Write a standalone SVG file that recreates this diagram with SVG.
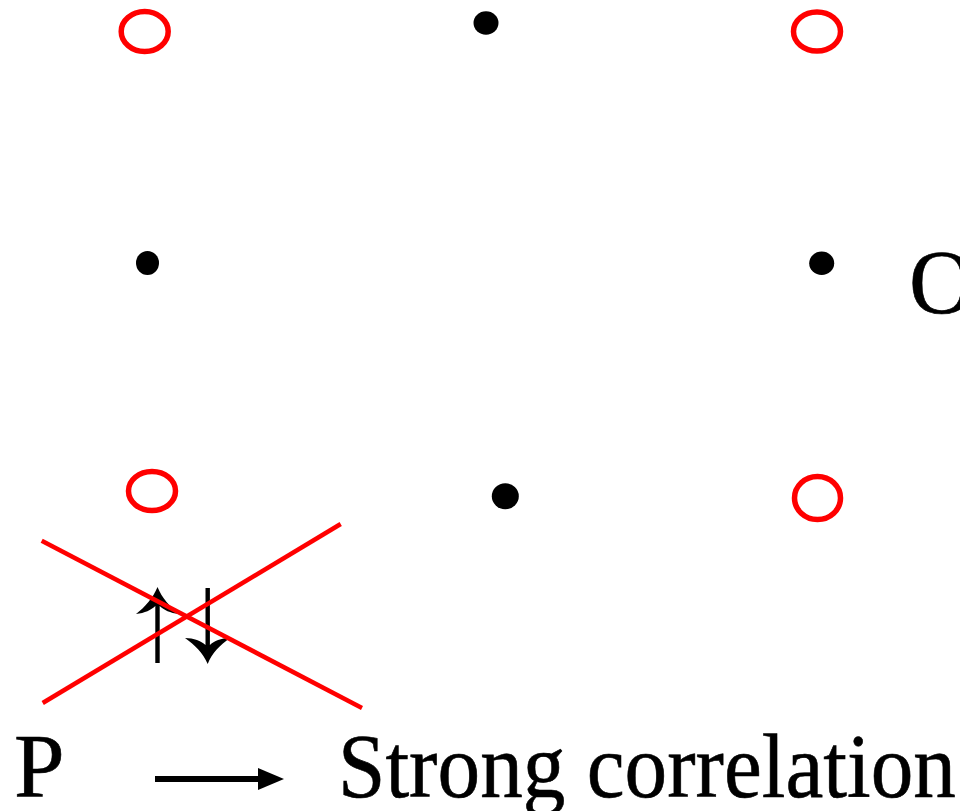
<svg xmlns="http://www.w3.org/2000/svg" width="960" height="811" viewBox="0 0 960 811">
  <style>
    .ring { fill: none; stroke: #ff0000; stroke-width: 5.5; }
    .dot { fill: #000000; }
    .cross { stroke: #ff0000; stroke-width: 4.5; fill: none; }
    .lbl { font-family: "Liberation Serif", "Times New Roman", serif; font-size: 91px; fill: #000000; stroke: #000000; stroke-width: 0.6; }
  </style>
  <rect width="960" height="811" fill="#ffffff"/>
  <g id="rings">
    <ellipse class="ring" cx="144.7" cy="31.5" rx="23.5" ry="20"/>
    <ellipse class="ring" cx="817" cy="31.5" rx="23.5" ry="19.5"/>
    <ellipse class="ring" cx="152" cy="491" rx="23.5" ry="19.5"/>
    <ellipse class="ring" cx="817.5" cy="498" rx="23" ry="21.5"/>
  </g>
  <g id="dots">
    <ellipse class="dot" cx="486" cy="23" rx="12.5" ry="11.7"/>
    <ellipse class="dot" cx="147.5" cy="263" rx="11.5" ry="12"/>
    <ellipse class="dot" cx="821.7" cy="263.3" rx="12.5" ry="11.7"/>
    <ellipse class="dot" cx="505.3" cy="496.3" rx="13.5" ry="13"/>
  </g>
  <g id="spins">
    <path d="M157.5,587 C162,598 170,607 179,614 C170,613 164,610 159.7,606 L159.7,663 L155.3,663 L155.3,606 C151,610 145,613 136,614 C145,607 153,598 157.5,587 Z" fill="#000"/>
    <path d="M207.7,664 C203,653 195,645 185,638 C194,638 201,641 205.5,645 L205.5,588 L209.9,588 L209.9,645 C214,641 221,638 230,638 C220,645 212,653 207.7,664 Z" fill="#000"/>
  </g>
  <g id="cross">
    <line class="cross" x1="41.7" y1="540.7" x2="362" y2="708"/>
    <line class="cross" x1="42.7" y1="703" x2="340.7" y2="524"/>
  </g>
  <g id="label-O">
    <text class="lbl" x="909" y="313">O</text>
  </g>
  <g id="legend">
    <text class="lbl" x="14" y="797">P</text>
    <line x1="155" y1="779" x2="262" y2="779" stroke="#000" stroke-width="6"/>
    <polygon points="258,768 284,779 258,790" fill="#000"/>
    <text class="lbl" x="338" y="797" textLength="618" lengthAdjust="spacingAndGlyphs">Strong correlation</text>
  </g>
</svg>
